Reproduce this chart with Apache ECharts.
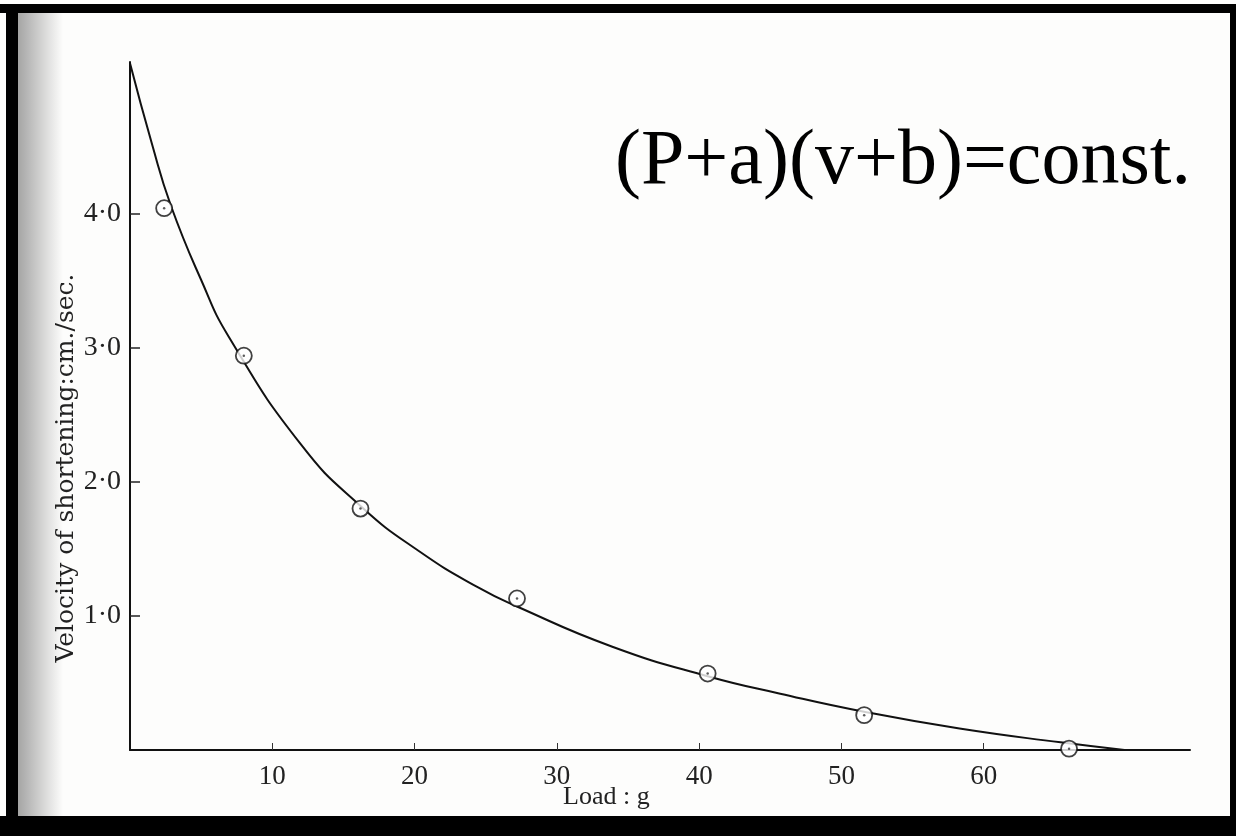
<!DOCTYPE html>
<html>
<head>
<meta charset="utf-8">
<script src="https://cdn.jsdelivr.net/npm/echarts@6/dist/echarts.min.js"></script>
<style>
  html, body { margin: 0; padding: 0; background: #fff; }
  #chart { width: 1236px; height: 836px; }
</style>
</head>
<body>
<div id="chart"></div>
<script>
// measured points: load (g) vs velocity of shortening (cm/s)
var loadPts = [2.4, 8.0, 16.2, 27.2, 40.6, 51.6, 66.0];
var velPts  = [4.04, 2.94, 1.80, 1.13, 0.57, 0.26, 0.01];

// the drawn hyperbola
var curveLoad = [0, 1.54, 2.87, 4.98, 6.95, 12.0, 16.2, 20.35, 24.5, 27.2, 33.9, 40.6, 45.7, 51.6, 58.3, 65.4, 69.9];
var curveVel  = [5.12, 4.52, 4.06, 3.51, 3.08, 2.28, 1.82, 1.48, 1.21, 1.07, 0.77, 0.55, 0.42, 0.285, 0.16, 0.057, 0];

// axis ticks
var xTicks = [10, 20, 30, 40, 50, 60];
var yTicks = [1, 2, 3, 4];
var yTickLabels = ['1·0', '2·0', '3·0', '4·0'];

var serif = 'Liberation Serif';

function pairs(xs, ys) {
    return xs.map(function (x, i) { return [x, ys[i]]; });
}

var chart = echarts.init(document.getElementById('chart'));

var option = {
    backgroundColor: '#fdfdfc',
    animation: false,
    grid: { left: 130, right: 46, top: 62, bottom: 86 },
    xAxis: {
        type: 'value',
        min: 0,
        max: 74.5,
        interval: 10,
        axisLine: { lineStyle: { color: '#111', width: 2 } },
        axisTick: {
            inside: true, length: 7, customValues: xTicks,
            lineStyle: { color: '#333', width: 1 }
        },
        axisLabel: {
            customValues: xTicks,
            margin: 13,
            color: '#222',
            fontFamily: serif,
            fontSize: 27
        },
        splitLine: { show: false }
    },
    yAxis: {
        type: 'value',
        min: 0,
        max: 5.13,
        interval: 1,
        axisLine: { lineStyle: { color: '#111', width: 2 } },
        axisTick: {
            inside: true, length: 10, customValues: yTicks,
            lineStyle: { color: '#222', width: 1.5 }
        },
        axisLabel: {
            customValues: yTicks,
            margin: 9,
            color: '#222',
            fontFamily: serif,
            fontSize: 28,
            formatter: function (v) { return yTickLabels[yTicks.indexOf(v)]; }
        },
        splitLine: { show: false }
    },
    series: [
        {
            type: 'line',
            data: pairs(curveLoad, curveVel),
            smooth: 0.5,
            showSymbol: false,
            lineStyle: { color: '#111', width: 2 },
            z: 2
        },
        {
            type: 'scatter',
            data: pairs(loadPts, velPts),
            symbol: 'circle',
            symbolSize: 16,
            itemStyle: { color: '#fff', borderColor: '#111', borderWidth: 1.8 },
            z: 3
        },
        {
            type: 'scatter',
            data: pairs(loadPts, velPts),
            symbol: 'circle',
            symbolSize: 2.5,
            itemStyle: { color: '#333' },
            z: 4
        }
    ],
    graphic: [
        // scan border
        { type: 'rect', shape: { x: 0, y: 4, width: 1236, height: 9 }, style: { fill: '#000' } },
        { type: 'rect', shape: { x: 6, y: 4, width: 12, height: 832 }, style: { fill: '#000' } },
        { type: 'rect', shape: { x: 0, y: 816, width: 1236, height: 20 }, style: { fill: '#000' } },
        { type: 'rect', shape: { x: 1230, y: 13, width: 6, height: 823 }, style: { fill: '#000' } },
        {
            type: 'rect', shape: { x: 18, y: 13, width: 45, height: 803 },
            style: {
                fill: new echarts.graphic.LinearGradient(0, 0, 1, 0, [
                    { offset: 0, color: 'rgba(0,0,0,0.35)' },
                    { offset: 1, color: 'rgba(0,0,0,0)' }
                ])
            }
        },
        {
            type: 'text', x: 66, y: 468, rotation: Math.PI / 2,
            style: {
                text: 'Velocity of shortening:cm./sec.',
                fontFamily: 'DejaVu Serif', fontSize: 25, fill: '#222',
                align: 'center', verticalAlign: 'middle'
            }
        },
        {
            type: 'text', x: 563, y: 797,
            style: {
                text: 'Load : g',
                fontFamily: serif, fontSize: 26, fill: '#222',
                align: 'left', verticalAlign: 'middle'
            }
        },
        {
            type: 'text', x: 615, y: 163,
            style: {
                text: '(P+a)(v+b)=const.',
                fontFamily: serif, fontSize: 78, fill: '#000',
                align: 'left', verticalAlign: 'middle',
                shadowColor: 'rgba(0,0,0,0.35)', shadowBlur: 3,
                shadowOffsetX: 2, shadowOffsetY: 2
            }
        }
    ]
};

chart.setOption(option);
</script>
</body>
</html>
